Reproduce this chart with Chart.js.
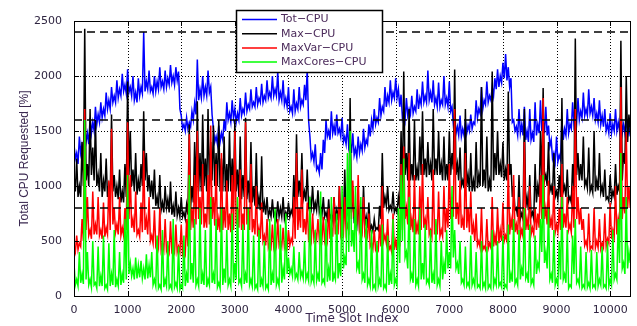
<!DOCTYPE html>
<html>
<head>
<meta charset="utf-8">
<script src="https://cdn.jsdelivr.net/npm/chart.js@4/dist/chart.umd.min.js"></script>
<style>
  body { margin: 0; background: #fff; }
  #wrap { width: 637px; height: 326px; }
</style>
</head>
<body>
<div id="wrap"><canvas id="cpu" width="637" height="326"></canvas></div>
<script>
// values: *Cpu at slots 0,50,100,... ; *Low at slots 25,75,125,...
const halfStep = 25;
const xMax = 10370;
const xTicks = [0, 1000, 2000, 3000, 4000, 5000, 6000, 7000, 8000, 9000, 10000];
const yTicks = [0, 500, 1000, 1500, 2000, 2500];
const refLevels = [800, 1600, 2400];
const seriesNames = ['Tot\u2212CPU', 'Max\u2212CPU', 'MaxVar\u2212CPU', 'MaxCores\u2212CPU'];

const totCpu = [
  1380,1300,1450,1380,1550,1480,1620,1580,1720,1650,
  1760,1700,1850,1780,1900,1820,1960,1880,2020,1920,
  2060,1900,2000,1850,1980,1900,2400,1950,2050,1900,
  2000,1950,2080,1950,2050,1980,2100,2000,2080,2040,
  1640,1560,1620,1580,1680,1750,2150,1880,2000,1900,
  2050,1900,1520,1450,1550,1480,1600,1760,1660,1780,
  1700,1660,1800,1700,1850,1740,1880,1760,1900,1800,
  1930,1820,1960,1850,2000,1880,2040,1850,1960,1800,
  1900,1720,1880,1750,1900,1780,1920,2060,1450,1300,
  1380,1180,1300,1420,1600,1500,1680,1550,1650,1520,
  1620,1450,1560,1400,1480,1340,1450,1380,1520,1420,
  1560,1600,1700,1620,1800,1720,1900,1820,1960,1850,
  1980,1880,1830,1680,1800,1700,1820,1720,1880,1800,
  1950,1820,2050,1850,1960,1800,1940,1780,2000,1800,
  1950,1720,1620,1540,1640,1520,1600,1550,1650,1580,
  1780,1700,1900,1780,1950,1820,1900,1980,2060,2000,
  2120,2200,2080,1980,1600,1540,1700,1560,1720,1500,
  1700,1480,1760,1560,1780,1600,1720,1550,1420,1300,
  1450,1280,1600,1520,1700,1560,1760,1640,1800,1680,
  1850,1700,1880,1720,1800,1660,1780,1640,1700,1560,
  1660,1560,1700,1580,1680,1560,1620,1540
];
const totCpuLow = [
  1250,1200,1300,1320,1400,1380,1480,1500,1560,1580,
  1620,1640,1700,1700,1760,1760,1800,1820,1860,1840,
  1850,1820,1780,1760,1820,1840,1860,1880,1860,1840,
  1860,1880,1900,1880,1900,1920,1940,1920,1960,1700,
  1520,1500,1520,1540,1600,1650,1780,1800,1820,1820,
  1850,1650,1400,1380,1400,1420,1500,1600,1580,1620,
  1580,1600,1640,1660,1680,1700,1720,1720,1740,1760,
  1760,1780,1800,1800,1820,1820,1780,1780,1740,1720,
  1680,1660,1680,1700,1720,1740,1780,1600,1250,1220,
  1150,1120,1150,1300,1450,1420,1480,1460,1480,1450,
  1400,1380,1350,1300,1280,1260,1300,1320,1350,1380,
  1450,1520,1560,1580,1640,1680,1720,1760,1780,1800,
  1800,1720,1620,1600,1640,1650,1660,1680,1700,1740,
  1760,1760,1780,1760,1740,1720,1720,1740,1740,1720,
  1680,1560,1480,1460,1450,1460,1480,1500,1520,1560,
  1620,1660,1700,1740,1760,1780,1820,1880,1900,1940,
  1980,1960,1900,1580,1500,1460,1480,1460,1420,1400,
  1420,1400,1460,1480,1500,1480,1460,1360,1250,1220,
  1220,1240,1420,1460,1480,1520,1560,1580,1600,1620,
  1640,1640,1660,1640,1600,1580,1560,1540,1500,1480,
  1480,1500,1500,1500,1480,1480,1460,1450
];

const maxCpu = [
  1100,1250,1000,1400,2430,1200,1700,1350,1600,1100,
  1300,1050,1250,1000,1650,1100,1000,1150,950,1200,
  1950,1500,1150,1300,1050,1200,1680,1300,1100,1050,
  1150,900,1100,850,1000,880,1040,820,950,800,
  900,760,830,1560,1000,1400,1770,1300,1650,1250,
  1700,1400,1550,1300,1600,1250,1450,1200,1500,1250,
  1600,1150,1450,1100,1620,1050,1400,1000,1300,900,
  1270,850,900,780,880,760,860,800,900,760,
  850,780,1100,1470,1050,1300,950,1150,880,1000,
  850,960,820,900,760,880,740,900,780,1000,
  720,1150,800,1800,950,700,900,680,1000,720,
  850,640,700,620,820,1300,900,1000,820,950,
  800,900,1500,2040,1300,1700,1200,1600,1160,1450,
  1680,1250,1400,1200,1700,1250,1500,1200,1450,1200,
  1500,1300,2060,1200,1350,1050,1700,1100,1300,1050,
  1400,1100,1900,1150,1450,1050,2040,1300,1500,1200,
  1400,1150,1860,1200,1000,800,1100,750,1700,900,
  1100,760,1200,1000,1500,1890,1100,1400,1000,1300,
  950,1100,1800,1000,1150,900,1200,2340,1300,1200,
  1450,1050,1350,1000,1500,1050,1300,1000,1150,900,
  1100,950,1200,1000,2320,1300,2000,1650
];
const maxCpuLow = [
  950,900,900,1000,1050,1000,1100,1050,1000,950,
  900,950,900,880,950,900,880,850,850,900,
  1100,1000,950,920,950,1000,1050,950,900,880,
  820,800,780,760,800,760,740,720,730,720,
  720,700,740,800,850,900,950,950,1000,950,
  1000,1050,1000,1000,950,950,950,950,950,950,
  950,900,880,900,880,850,850,820,800,780,
  760,740,720,720,730,700,720,720,700,720,
  720,740,800,900,900,880,860,820,800,780,
  780,760,740,720,700,700,680,700,690,680,
  660,700,720,760,680,640,620,620,640,620,
  600,590,600,600,700,800,820,780,780,760,
  760,800,950,1100,1050,1050,1050,1050,1050,1100,
  1100,1080,1100,1050,1100,1100,1100,1050,1050,1050,
  1100,1150,1100,1050,1000,980,1000,950,950,950,
  980,1000,1000,980,950,950,1050,1100,1100,1080,
  1050,1050,1100,900,780,720,700,700,800,780,
  720,700,850,900,1000,1050,1000,950,920,900,
  880,900,950,900,860,850,950,1100,1050,1050,
  1000,980,950,940,950,960,940,900,880,860,
  880,900,920,950,1050,1200,1400,1500
];

const maxVarCpu = [
  450,550,480,700,1700,900,600,950,650,900,
  600,850,620,1050,1520,800,650,900,620,800,
  1580,1100,700,950,600,850,1320,700,900,550,
  780,500,800,480,700,450,680,420,650,450,
  650,420,700,1470,800,1100,1500,900,1200,750,
  1100,1550,900,1200,700,1300,800,1050,750,1100,
  1500,800,1150,750,1580,800,1200,700,1000,620,
  850,550,700,480,650,520,700,500,620,480,
  600,520,900,1300,800,1150,700,850,560,750,
  580,700,600,720,560,800,620,900,650,1000,
  620,900,650,1300,1050,800,1100,650,900,600,
  750,480,600,450,650,1000,550,700,450,750,
  500,700,1200,1360,800,1300,700,1100,650,1000,
  1200,700,900,600,1150,650,950,600,1000,800,
  1200,900,1700,850,1050,700,1300,800,950,650,
  750,500,800,450,700,480,900,550,800,600,
  850,550,1200,700,1100,650,900,600,1400,700,
  1000,620,800,750,1100,1800,800,1050,700,1000,
  650,800,1200,750,900,650,1000,1700,900,800,
  700,500,750,450,800,500,700,480,750,520,
  850,600,1000,700,1900,900,1500,1000
];
const maxVarCpuLow = [
  400,420,450,500,600,550,520,560,560,550,
  520,540,560,600,650,580,560,550,550,600,
  700,620,580,560,540,580,600,560,500,480,
  460,440,420,420,410,400,400,390,400,400,
  380,380,450,600,620,650,700,650,620,620,
  650,700,640,600,580,600,620,600,580,600,
  650,620,600,600,650,600,580,560,540,520,
  500,460,440,440,450,460,460,450,440,440,
  460,480,520,600,620,580,560,520,500,520,
  520,520,520,500,500,520,540,560,560,560,
  560,580,600,700,720,650,600,580,560,540,
  450,430,420,420,450,500,480,420,400,420,
  420,450,600,700,650,600,580,560,560,600,
  620,600,560,540,560,560,540,540,580,620,
  700,720,700,650,620,600,620,580,560,500,
  460,440,420,420,430,440,450,460,480,500,
  500,500,560,600,580,560,540,540,600,600,
  560,560,600,620,700,700,650,620,600,580,
  580,600,620,620,600,580,620,700,650,600,
  460,440,420,430,440,440,430,440,450,480,
  520,540,560,600,700,750,800,800
];

const maxCoresCpu = [
  300,150,400,200,1600,400,150,500,120,450,
  180,550,100,480,200,600,150,400,200,700,
  1100,300,250,350,280,320,250,380,280,400,
  150,550,100,600,150,500,100,700,120,450,
  100,550,200,1100,300,700,150,800,200,600,
  150,900,200,700,120,800,250,600,150,750,
  300,900,150,650,200,800,150,550,100,600,
  150,500,100,700,200,800,150,650,250,750,
  350,250,450,200,400,220,500,200,900,180,
  600,200,950,150,700,250,900,200,750,300,
  1000,350,1300,1500,600,1000,300,900,200,700,
  150,600,100,500,150,650,100,550,200,700,
  150,800,1100,1250,400,900,200,700,150,800,
  300,650,150,600,200,700,150,500,300,600,
  400,1000,600,300,500,150,450,120,550,150,
  400,100,500,120,450,100,600,150,500,120,
  550,100,650,200,700,150,600,250,800,200,
  650,150,550,300,700,1100,400,800,200,600,
  150,500,900,200,600,100,550,700,150,450,
  100,400,120,420,100,400,150,450,100,500,
  150,600,200,700,1300,300,900,400
];
const maxCoresCpuLow = [
  100,90,120,110,150,100,80,100,70,90,
  90,70,60,90,100,80,90,100,120,150,
  200,180,150,160,170,160,150,160,170,100,
  90,70,60,80,90,70,60,80,70,60,
  70,90,120,150,120,100,90,110,100,80,
  100,120,110,80,70,100,120,100,90,120,
  150,120,90,110,120,100,90,70,60,80,
  90,70,60,100,120,100,90,120,150,200,
  200,180,160,150,170,160,150,140,130,120,
  140,130,120,110,130,140,130,150,160,180,
  250,280,400,450,400,250,200,150,120,100,
  90,70,60,90,80,70,60,100,110,100,
  100,300,500,350,250,150,120,100,90,150,
  150,120,100,120,110,100,90,150,200,250,
  250,350,250,200,120,100,90,80,100,90,
  80,70,80,70,70,70,90,100,90,80,
  70,70,120,130,110,100,150,180,160,120,
  110,100,200,250,400,300,250,150,120,100,
  100,150,150,120,70,80,200,120,100,70,
  70,80,70,80,70,90,100,80,70,90,
  100,150,150,300,250,200,250,300
];

// merge peaks and dips into one trace per series
const merge = (peaks, dips) => peaks.flatMap((v, i) => [v, dips[i]]);
const slots = merge(totCpu, totCpuLow).map((_, i) => i * halfStep);

const textColor = '#2e2440';

const lineSet = (label, values, color, order) => ({
  label, data: values, borderColor: color, backgroundColor: color,
  borderWidth: 1.5, pointRadius: 0, tension: 0, order
});

const datasets = [
  lineSet(seriesNames[0], merge(totCpu, totCpuLow), '#0000ff', 4),
  lineSet(seriesNames[1], merge(maxCpu, maxCpuLow), '#000000', 3),
  lineSet(seriesNames[2], merge(maxVarCpu, maxVarCpuLow), '#ff0000', 2),
  lineSet(seriesNames[3], merge(maxCoresCpu, maxCoresCpuLow), '#00ff00', 1)
];
refLevels.forEach(v => {
  datasets.push({
    label: 'ref', data: [{x: 0, y: v}, {x: xMax, y: v}],
    borderColor: '#000', borderWidth: 1.5, borderDash: [8, 5],
    pointRadius: 0, order: 0
  });
});

// dotted grid behind the data, box + inward ticks + legend on top
const matlabFrame = {
  id: 'matlabFrame',
  beforeDatasetsDraw(chart) {
    const {ctx, chartArea: a, scales: {x, y}} = chart;
    ctx.save();
    ctx.strokeStyle = '#000';
    ctx.lineWidth = 1;
    ctx.setLineDash([1, 2]);
    ctx.beginPath();
    xTicks.forEach(v => {
      const px = Math.round(x.getPixelForValue(v)) + 0.5;
      ctx.moveTo(px, a.top); ctx.lineTo(px, a.bottom);
    });
    yTicks.forEach(v => {
      const py = Math.round(y.getPixelForValue(v)) + 0.5;
      ctx.moveTo(a.left, py); ctx.lineTo(a.right, py);
    });
    ctx.stroke();
    ctx.restore();
  },
  afterDatasetsDraw(chart) {
    const {ctx, chartArea: a, scales: {x, y}} = chart;
    ctx.save();
    ctx.strokeStyle = '#000';
    ctx.lineWidth = 1;
    ctx.setLineDash([]);
    ctx.strokeRect(Math.round(a.left) + 0.5, Math.round(a.top) + 0.5,
      Math.round(a.right - a.left), Math.round(a.bottom - a.top));
    ctx.beginPath();
    xTicks.forEach(v => {
      const px = Math.round(x.getPixelForValue(v)) + 0.5;
      ctx.moveTo(px, a.bottom); ctx.lineTo(px, a.bottom - 5);
      ctx.moveTo(px, a.top); ctx.lineTo(px, a.top + 5);
    });
    yTicks.forEach(v => {
      const py = Math.round(y.getPixelForValue(v)) + 0.5;
      ctx.moveTo(a.left, py); ctx.lineTo(a.left + 5, py);
      ctx.moveTo(a.right, py); ctx.lineTo(a.right - 5, py);
    });
    ctx.stroke();

    // legend box
    const lx = 236, ly = 10, lw = 146, lh = 62;
    ctx.fillStyle = '#fff';
    ctx.fillRect(lx, ly, lw, lh);
    ctx.lineWidth = 1.5;
    ctx.strokeRect(lx + 0.5, ly + 0.5, lw, lh);
    ctx.font = '11px "DejaVu Sans"';
    ctx.textBaseline = 'middle';
    chart.data.datasets.slice(0, 4).forEach((ds, i) => {
      const ry = ly + 9.5 + i * 14.2;
      ctx.strokeStyle = ds.borderColor;
      ctx.lineWidth = 1.5;
      ctx.beginPath();
      ctx.moveTo(lx + 6, ry); ctx.lineTo(lx + 41, ry);
      ctx.stroke();
      ctx.fillStyle = '#4b2a5a';
      ctx.fillText(ds.label, lx + 45, ry);
    });
    ctx.restore();
  }
};

new Chart(document.getElementById('cpu'), {
  type: 'line',
  data: { labels: slots, datasets },
  options: {
    responsive: false,
    animation: false,
    events: [],
    layout: { padding: { top: 21, right: 7, left: 0, bottom: 0 } },
    plugins: {
      legend: { display: false },
      tooltip: { enabled: false }
    },
    scales: {
      x: {
        type: 'linear',
        min: 0,
        max: xMax,
        afterBuildTicks: s => { s.ticks = xTicks.map(v => ({value: v})); },
        afterFit: s => { s.height = 30; },
        grid: { display: false },
        border: { display: false },
        ticks: {
          color: textColor, padding: 0, maxRotation: 0, autoSkip: false,
          font: { family: 'DejaVu Sans', size: 11 },
          callback: v => String(v)
        },
        title: {
          display: true, text: 'Time Slot Index', color: '#3a2850',
          font: { family: 'DejaVu Sans', size: 12 },
          padding: { top: 0, bottom: 0 }
        }
      },
      y: {
        min: 0,
        max: 2500,
        afterBuildTicks: s => { s.ticks = yTicks.map(v => ({value: v})); },
        afterFit: s => { s.width = 74; },
        grid: { display: false },
        border: { display: false },
        ticks: {
          color: textColor, padding: 4,
          font: { family: 'DejaVu Sans', size: 11 },
          callback: v => String(v)
        },
        title: {
          display: true, text: 'Total CPU Requested [%]', color: '#3a2850',
          font: { family: 'Liberation Sans', size: 12 },
          padding: { top: 17, bottom: 0 }
        }
      }
    }
  },
  plugins: [matlabFrame]
});
</script>
</body>
</html>
